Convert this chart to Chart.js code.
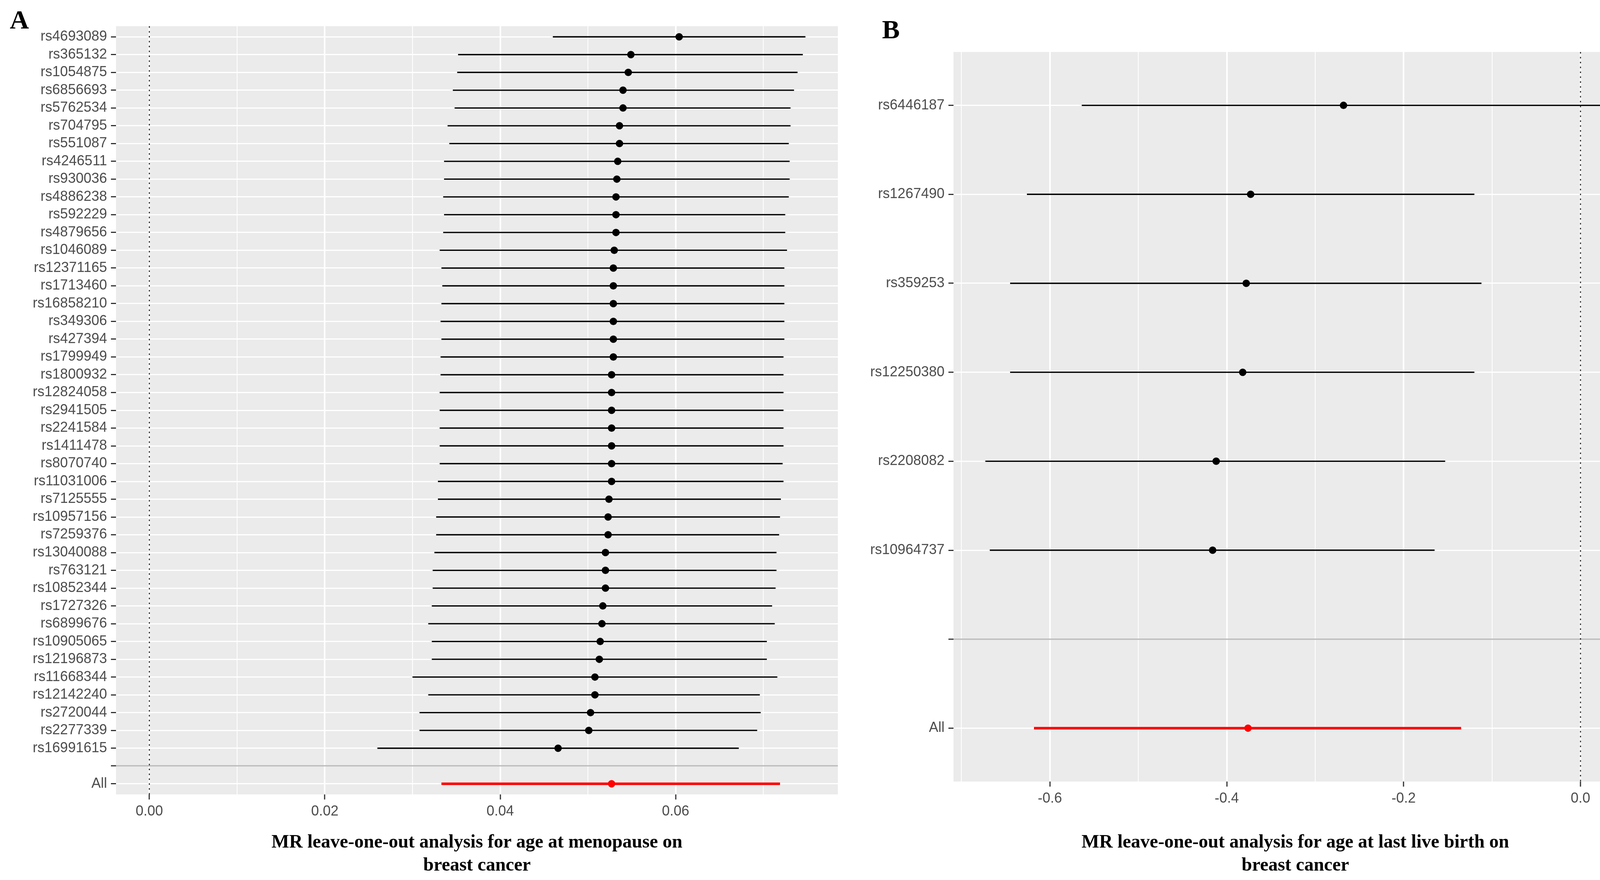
<!DOCTYPE html>
<html>
<head>
<meta charset="utf-8">
<script src="https://cdn.jsdelivr.net/npm/chart.js@4.4.1/dist/chart.umd.min.js"></script>
<style>
    html, body { margin: 0; padding: 0; background: #ffffff; }
    body { width: 4220px; height: 2252px; position: relative; overflow: hidden; }
    .panel { position: absolute; top: 0; height: 2252px; }
    #wrapA { left: 0; width: 2180px; }
    #wrapB { left: 2200px; width: 2020px; }
    .tag {
        position: absolute;
        font-family: "Liberation Serif", "Times New Roman", serif;
        font-weight: bold;
        font-size: 68px;
        line-height: 68px;
        color: #000;
    }
</style>
</head>
<body>
<div class="panel" id="wrapA"><canvas id="chartA"></canvas></div>
<div class="panel" id="wrapB"><canvas id="chartB"></canvas></div>
<div class="tag" style="left:25px; top:16px;">A</div>
<div class="tag" style="left:2258px; top:41px;">B</div>

<script>
// ==================== PANEL A: age at menopause ====================
const snpA = [
    "rs4693089", "rs365132", "rs1054875", "rs6856693", "rs5762534", "rs704795",
    "rs551087", "rs4246511", "rs930036", "rs4886238", "rs592229", "rs4879656",
    "rs1046089", "rs12371165", "rs1713460", "rs16858210", "rs349306", "rs427394",
    "rs1799949", "rs1800932", "rs12824058", "rs2941505", "rs2241584", "rs1411478",
    "rs8070740", "rs11031006", "rs7125555", "rs10957156", "rs7259376", "rs13040088",
    "rs763121", "rs10852344", "rs1727326", "rs6899676", "rs10905065", "rs12196873",
    "rs11668344", "rs12142240", "rs2720044", "rs2277339", "rs16991615"
];
const estA = [
    0.0604, 0.0549, 0.0546, 0.0540, 0.0540, 0.0536, 0.0536, 0.0534, 0.0533, 0.0532,
    0.0532, 0.0532, 0.0530, 0.0529, 0.0529, 0.0529, 0.0529, 0.0529, 0.0529, 0.0527,
    0.0527, 0.0527, 0.0527, 0.0527, 0.0527, 0.0527, 0.0524, 0.0523, 0.0523, 0.0520,
    0.0520, 0.0520, 0.0517, 0.0516, 0.0514, 0.0513, 0.0508, 0.0508, 0.0503, 0.0501,
    0.0466
];
const loA = [
    0.0460, 0.0352, 0.0351, 0.0346, 0.0348, 0.0340, 0.0342, 0.0336, 0.0336, 0.0335,
    0.0336, 0.0335, 0.0331, 0.0333, 0.0334, 0.0333, 0.0332, 0.0333, 0.0332, 0.0332,
    0.0331, 0.0331, 0.0331, 0.0331, 0.0331, 0.0329, 0.0329, 0.0327, 0.0327, 0.0325,
    0.0323, 0.0323, 0.0322, 0.0318, 0.0322, 0.0322, 0.0300, 0.0318, 0.0308, 0.0308,
    0.0260
];
const hiA = [
    0.0748, 0.0745, 0.0739, 0.0735, 0.0731, 0.0731, 0.0729, 0.0730, 0.0730, 0.0729,
    0.0725, 0.0725, 0.0727, 0.0724, 0.0724, 0.0724, 0.0724, 0.0724, 0.0723, 0.0723,
    0.0723, 0.0723, 0.0723, 0.0723, 0.0722, 0.0723, 0.0720, 0.0719, 0.0718, 0.0715,
    0.0715, 0.0714, 0.0710, 0.0713, 0.0704, 0.0704, 0.0716, 0.0696, 0.0697, 0.0693,
    0.0672
];
const allA = [0.0333, 0.0527, 0.0719];   // lo, est, hi
const majorTicksA = [0.00, 0.02, 0.04, 0.06];
const minorTicksA = [0.01, 0.03, 0.05, 0.07];
const limitsA = [-0.0038, 0.0785];
const titleA = ["MR leave-one-out analysis for age at menopause on", "breast cancer"];

// ==================== PANEL B: age at last live birth ====================
const snpB = ["rs6446187", "rs1267490", "rs359253", "rs12250380", "rs2208082", "rs10964737"];
const estB = [-0.268, -0.373, -0.378, -0.382, -0.412, -0.416];
const loB = [-0.564, -0.626, -0.645, -0.645, -0.673, -0.668];
const hiB = [0.028, -0.120, -0.112, -0.120, -0.153, -0.165];
const allB = [-0.618, -0.376, -0.135];
const majorTicksB = [-0.6, -0.4, -0.2, 0.0];
const minorTicksB = [-0.7, -0.5, -0.3, -0.1];
const limitsB = [-0.709, 0.064];
const titleB = ["MR leave-one-out analysis for age at last live birth on", "breast cancer"];

const refLine = 0;   // geom_vline(xintercept = 0)

const tickFont = { family: "'Liberation Sans', Arial, sans-serif", size: 36 };
const titleFont = { family: "'Liberation Serif', 'Times New Roman', serif", size: 48, weight: "bold", lineHeight: 1.23 };

const isMajor = (list, v) => list.some(t => Math.abs(t - v) < 1e-9);
const tickValue = c => (c && c.tick) ? c.tick.value : null;

// panel background + dotted zero line
const panelPlugin = {
    id: "panelGris",
    beforeDraw(chart) {
        const { ctx, chartArea: a } = chart;
        ctx.save();
        ctx.fillStyle = "#EBEBEB";
        ctx.fillRect(a.left, a.top, a.right - a.left, a.bottom - a.top);
        ctx.restore();
    },
    beforeDatasetsDraw(chart) {
        const { ctx, chartArea: a } = chart;
        const x = chart.scales.x.getPixelForValue(refLine);
        ctx.save();
        ctx.strokeStyle = "#1a1a1a";
        ctx.lineWidth = 2.5;
        ctx.setLineDash([4, 8.5]);
        ctx.beginPath();
        ctx.moveTo(x, a.top);
        ctx.lineTo(x, a.bottom);
        ctx.stroke();
        ctx.restore();
    }
};

function crearPanel(id, cfg) {
    const ctx = document.getElementById(id);
    const labels = [...cfg.snps, "", "All"];
    const blankIdx = cfg.snps.length;
    const allIdx = cfg.snps.length + 1;
    const allTicks = [...cfg.major, ...cfg.minor].sort((a, b) => a - b);

    return new Chart(ctx, {
        type: "scatter",
        data: {
            datasets: [
                {
                    type: "scatter",
                    data: cfg.snps.map((s, i) => ({ x: cfg.est[i], y: i })),
                    backgroundColor: "#000000",
                    borderWidth: 0,
                    pointRadius: 9.5,
                    pointHoverRadius: 9.5,
                    order: 0
                },
                {
                    type: "scatter",
                    data: [{ x: cfg.all[1], y: allIdx }],
                    backgroundColor: "#FF0000",
                    borderWidth: 0,
                    pointRadius: 9.5,
                    pointHoverRadius: 9.5,
                    order: 0
                },
                {
                    type: "bar",
                    indexAxis: "y",
                    grouped: false,
                    data: cfg.snps.map((s, i) => ({ x: [cfg.lo[i], cfg.hi[i]], y: i })),
                    backgroundColor: "#000000",
                    maxBarThickness: 3.4,
                    order: 1
                },
                {
                    type: "bar",
                    indexAxis: "y",
                    grouped: false,
                    data: [{ x: [cfg.all[0], cfg.all[2]], y: allIdx }],
                    backgroundColor: "#FF0000",
                    maxBarThickness: 6.5,
                    order: 1
                }
            ]
        },
        options: {
            responsive: true,
            maintainAspectRatio: false,
            animation: false,
            layout: { padding: { top: cfg.padTop, right: cfg.padRight, left: 0, bottom: 0 } },
            plugins: {
                legend: { display: false },
                tooltip: { enabled: false }
            },
            scales: {
                x: {
                    type: "linear",
                    offset: false,
                    min: cfg.limits[0],
                    max: cfg.limits[1],
                    afterBuildTicks: scale => { scale.ticks = allTicks.map(v => ({ value: v })); },
                    afterFit: scale => { scale.height = cfg.xHeight; },
                    border: { display: false },
                    grid: {
                        offset: false,
                        color: "#FFFFFF",
                        lineWidth: c => isMajor(cfg.major, tickValue(c)) ? 4 : 2,
                        tickColor: c => isMajor(cfg.major, tickValue(c)) ? "#333333" : "rgba(0,0,0,0)",
                        tickWidth: 3,
                        tickLength: 13
                    },
                    ticks: {
                        autoSkip: false,
                        maxRotation: 0,
                        padding: 9,
                        color: "#4D4D4D",
                        font: tickFont,
                        callback: v => isMajor(cfg.major, v) ? v.toFixed(cfg.decimals) : ""
                    },
                    title: {
                        display: true,
                        text: cfg.title,
                        color: "#000000",
                        font: titleFont,
                        padding: { top: 0, bottom: 7 }
                    }
                },
                y: {
                    type: "linear",
                    offset: false,
                    reverse: true,
                    min: -0.6,
                    max: labels.length - 1 + 0.6,
                    afterBuildTicks: scale => { scale.ticks = labels.map((l, i) => ({ value: i })); },
                    afterFit: scale => { scale.width = cfg.yWidth; },
                    border: { display: false },
                    grid: {
                        offset: false,
                        color: c => tickValue(c) === blankIdx ? "#BEBEBE" : "#FFFFFF",
                        lineWidth: c => tickValue(c) === blankIdx ? 3.5 : 3,
                        tickColor: "#333333",
                        tickWidth: 3,
                        tickLength: 13
                    },
                    ticks: {
                        autoSkip: false,
                        padding: 10,
                        color: "#4D4D4D",
                        font: tickFont,
                        callback: v => labels[v] !== undefined ? labels[v] : ""
                    }
                }
            }
        },
        plugins: [panelPlugin]
    });
}

crearPanel("chartA", {
    snps: snpA, est: estA, lo: loA, hi: hiA, all: allA,
    major: majorTicksA, minor: minorTicksA, limits: limitsA, decimals: 2,
    title: titleA,
    padTop: 67, padRight: 35, yWidth: 297, xHeight: 219
});

crearPanel("chartB", {
    snps: snpB, est: estB, lo: loB, hi: hiB, all: allB,
    major: majorTicksB, minor: minorTicksB, limits: limitsB, decimals: 1,
    title: titleB,
    padTop: 133, padRight: 29, yWidth: 241, xHeight: 252
});
</script>
</body>
</html>
